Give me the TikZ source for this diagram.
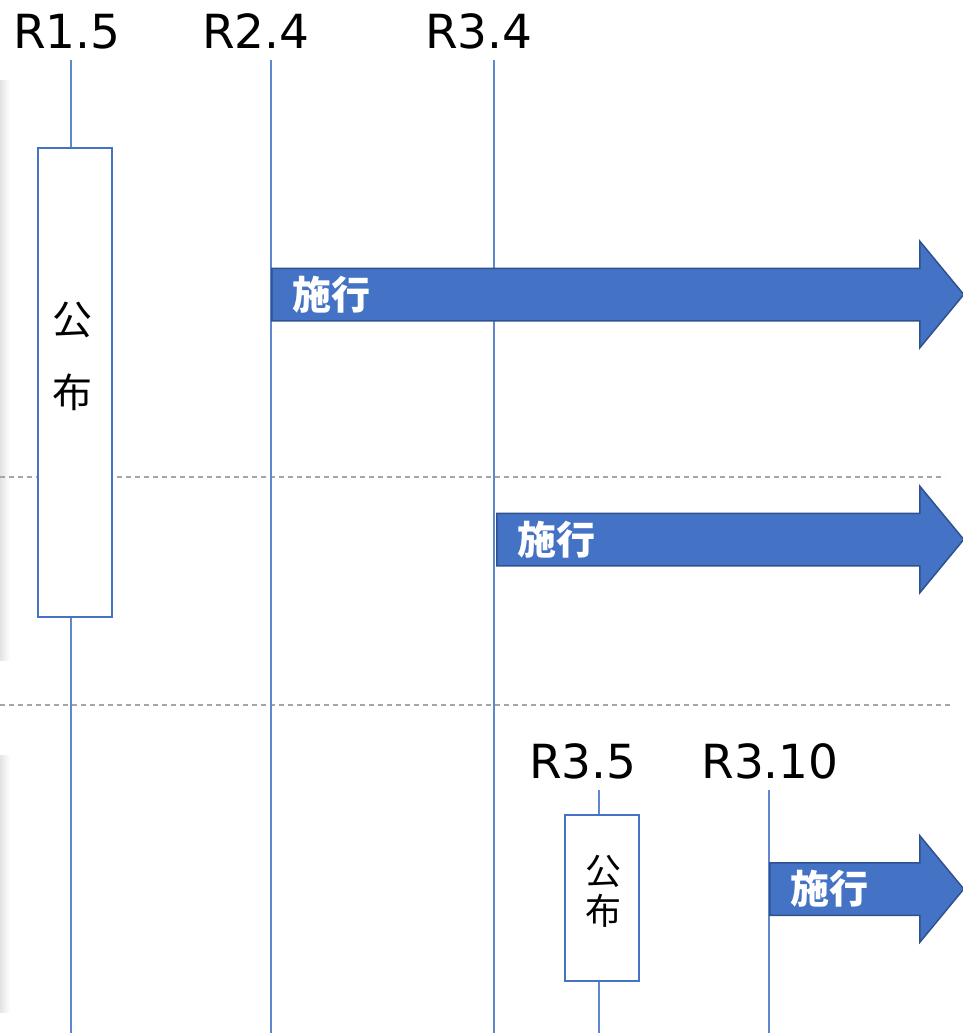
\documentclass[tikz,border=0pt]{standalone}
\usepackage{fontspec}
\setmainfont{DejaVu Sans}
\newfontfamily\cjk{Noto Sans CJK JP}
\usetikzlibrary{positioning, shapes.arrows}
\definecolor{lawblue}{HTML}{4472C4}
\definecolor{lawedge}{HTML}{2F528F}

\begin{document}
\begin{tikzpicture}[x=0.5pt, y=-0.5pt, node distance=10.5pt, >=stealth,
    datelbl/.style={font=\fontsize{23.5}{28}\selectfont, inner sep=0pt},
    tick/.style={draw=lawblue!85, line width=0.75pt},
    kofu/.style={draw=lawblue, line width=1.25pt, fill=white, inner sep=0pt, minimum width=37pt},
    kofutxt/.style={align=center, inner sep=0pt},
    shiko/.style={single arrow, draw=lawedge, line width=0.75pt, fill=lawblue, inner xsep=0pt, inner ysep=12.75pt,
      single arrow head extend=13.5pt, single arrow tip angle=101, anchor=tail},
    shikotxt/.style={font=\cjk\bfseries\fontsize{19.5}{22}\selectfont, text=white, inner sep=0pt},
    divider/.style={draw=gray!70, line width=0.6pt, dash pattern=on 2.5pt off 2pt}]
      \useasboundingbox (0,0) rectangle (963,1033);

      % Shadows of the row panels at the left edge
      \shade[left color=gray!22, right color=white] (0,80) rectangle (10,660);
      \shade[left color=gray!22, right color=white] (0,755) rectangle (10,1012);

      % Row dividers
      \coordinate (div1a) at (0,477);
      \coordinate (div1b) at (945,477);
      \coordinate (div2a) at (0,705);
      \coordinate (div2b) at (950,705);
      \draw[divider] (div1a) -- (div1b);
      \draw[divider] (div2a) -- (div2b);

      % Dates and their time lines
      \foreach \id/\x/\ytop/\lx/\ly/\txt in {r15/71/60/67/48/R1.5, r24/271/60/256/48/R2.4, r34/494/60/479/48/R3.4,
                                              r35/599/790/583/778/R3.5, r310/769/790/770/778/R3.10} {
          \node[datelbl, anchor=base] (\id) at (\lx,\ly) {\txt};
          \coordinate (\id top) at (\x,\ytop);
          \coordinate (\id bot) at (\x,1033);
          \draw[tick] (\id top) -- (\id bot);
      }

      % Promulgation boxes
      \node[kofu, minimum height=234.5pt] (kofu1) at (75,382.5) {};
      \node[kofutxt, font=\cjk\fontsize{20}{36.5}\selectfont] (kofu1txt) at (72,356.5) {公\\布};
      \node[kofu, minimum height=83pt] (kofu2) at (602,898) {};
      \node[kofutxt, font=\cjk\fontsize{18}{20}\selectfont] (kofu2txt) at (603,891) {公\\布};

      % Enforcement arrows
      \node[shiko, minimum height=346pt] (shiko1) at (271,294.5) {};
      \node[shiko, minimum height=233.5pt] (shiko2) at (496,539.5) {};
      \node[shiko, minimum height=97pt] (shiko3) at (769,889) {};
      \node[shikotxt, right=of shiko1.tail] (shiko1txt) {施行};
      \node[shikotxt, right=of shiko2.tail] (shiko2txt) {施行};
      \node[shikotxt, right=of shiko3.tail] (shiko3txt) {施行};
\end{tikzpicture}
\end{document}
